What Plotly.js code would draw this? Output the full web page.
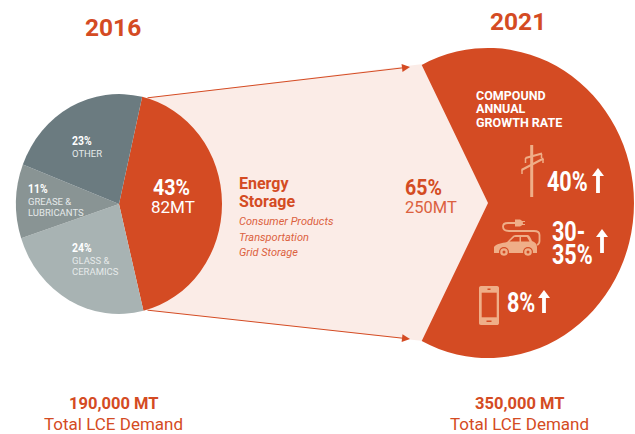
<!DOCTYPE html>
<html>
<head>
<meta charset="utf-8">
<script src="https://cdn.plot.ly/plotly-3.0.1.min.js"></script>
<style>html,body{margin:0;padding:0;background:#fff;overflow:hidden}#chart{width:635px;height:434px}</style>
</head>
<body>
<div id="chart"></div>
<script>
// ---- data ----
const categories2016 = ["Energy Storage", "Glass & Ceramics", "Grease & Lubricants", "Other"];
const shares2016 = [43, 24, 11, 23];
const categories2021 = ["Energy Storage", "Other uses"];
const shares2021 = [65, 35];
const years = ["2016", "2021"];
const totals = ["190,000 MT", "350,000 MT"];
const totalLabel = "Total LCE Demand";
const energyUses = ["Consumer Products", "Transportation", "Grid Storage"];

const ORANGE = "#D44B23", PALE = "#FBECE7", ICON = "#EFAE88", SOFT = "#DB6140";
const BODY = "Roboto, sans-serif";

const PIE_A = {cx:119, cy:204, rx:103, ry:110};
const PIE_B = {cx:488, cy:203, rx:146, ry:155};

function dom(p){return {x:[(p.cx-p.rx)/635,(p.cx+p.rx)/635], y:[1-(p.cy+p.rx)/434,1-(p.cy-p.rx)/434]};}

const traces = [
  {type:"scatter", x:[], y:[], hoverinfo:"skip", showlegend:false},
  {type:"pie", labels:categories2016, values:shares2016, sort:false, direction:"clockwise", rotation:13,
   domain:dom(PIE_A), textinfo:"none", hoverinfo:"label+percent", showlegend:false,
   marker:{colors:[ORANGE,"#A8B3B3","#899494","#6B7B80"], line:{width:0}}},
  {type:"pie", labels:categories2021, values:shares2021, sort:false, direction:"clockwise", rotation:-27,
   domain:dom(PIE_B), textinfo:"none", hoverinfo:"label", showlegend:false,
   marker:{colors:[ORANGE,"rgba(0,0,0,0)"], line:{width:0}}}
];

function t(text,x,y,size,color,opts){
  opts=opts||{};
  return {text:opts.bold?"<b>"+text+"</b>":(opts.italic?"<i>"+text+"</i>":text), x:opts.anchor?x:x-1, y:y, xref:"x", yref:"y",
    xanchor:opts.anchor||"left", yanchor:"middle", showarrow:false, align:opts.anchor||"left",
    borderpad:0, font:{family:BODY, size:size, color:color}, _s:opts.squeeze||0};
}
const WHITE="#FFFFFF", LABEL="#E6EAEA";
const rawAnn = [
  t(years[0],113,27,24.5,ORANGE,{bold:true,anchor:"center"}),
  t(years[1],518,21,24.5,ORANGE,{bold:true,anchor:"center"}),
  t(totals[0],113,403,16.5,ORANGE,{bold:true,anchor:"center"}),
  t(totalLabel,113,424,17,ORANGE,{anchor:"center"}),
  t(totals[1],519,403,16.5,ORANGE,{bold:true,anchor:"center"}),
  t(totalLabel,519,424,17,ORANGE,{anchor:"center"}),
  t("23%",72,140,13,WHITE,{bold:true,squeeze:.8}),
  t("OTHER",72,153,9.5,LABEL),
  t("11%",28,188,13,WHITE,{bold:true,squeeze:.8}),
  t("GREASE &",28,201,9.5,LABEL),
  t("LUBRICANTS",28,212,9.5,LABEL),
  t("24%",72,247,13,WHITE,{bold:true,squeeze:.8}),
  t("GLASS &",72,260,9.5,LABEL),
  t("CERAMICS",72,271,9.5,LABEL),
  t("43%",153,187,22.5,WHITE,{bold:true,squeeze:.87}),
  t("82MT",173,207,17,WHITE,{anchor:"center"}),
  t("Energy",239,183,16,ORANGE,{bold:true}),
  t("Storage",239,201,16,ORANGE,{bold:true}),
  t(energyUses[0],239,221,11,SOFT,{italic:true}),
  t(energyUses[1],239,237,11,SOFT,{italic:true}),
  t(energyUses[2],239,252,11,SOFT,{italic:true}),
  t("65%",405,187,22.5,ORANGE,{bold:true,squeeze:.87}),
  t("250MT",405,207,16.5,SOFT),
  t("COMPOUND",476,95,12.5,WHITE,{bold:true}),
  t("ANNUAL",476,108,12.5,WHITE,{bold:true}),
  t("GROWTH RATE",476,122,12.5,WHITE,{bold:true}),
  t("40%",547,182,27,WHITE,{bold:true,squeeze:.8}),
  t("30-",552,232,27,WHITE,{bold:true,squeeze:.8}),
  t("35%",552,255,27,WHITE,{bold:true,squeeze:.8}),
  t("8%",507,303,27,WHITE,{bold:true,squeeze:.8})
];
const squeezes = rawAnn.map(a=>a._s);
const annotations = rawAnn.map(a=>{const c=Object.assign({},a); delete c._s; return c;}).concat([
  {text:"",x:410,y:67,ax:146,ay:98,xref:"x",yref:"y",axref:"x",ayref:"y",showarrow:true,arrowhead:2,arrowsize:1.6,arrowwidth:1,arrowcolor:ORANGE},
  {text:"",x:410,y:339,ax:146,ay:310,xref:"x",yref:"y",axref:"x",ayref:"y",showarrow:true,arrowhead:2,arrowsize:1.6,arrowwidth:1,arrowcolor:ORANGE}
]);

function fillPath(path,color,layer){return {type:"path",xref:"x",yref:"y",path:path,fillcolor:color,line:{width:0},layer:layer||"above"};}
function stroke(path,color,w){return {type:"path",xref:"x",yref:"y",path:path,line:{color:color,width:w},layer:"above"};}
function circle(x,y,r,color){return {type:"circle",xref:"x",yref:"y",x0:x-r,x1:x+r,y0:y-r,y1:y+r,fillcolor:color,line:{width:0},layer:"above"};}
function upArrow(x,top,bottom){
  return fillPath(`M${x-1.9},${bottom} L${x+1.9},${bottom} L${x+1.9},${top+8} L${x+6},${top+8} L${x},${top} L${x-6},${top+8} L${x-1.9},${top+8} Z`,WHITE);
}
const shapes = [
  fillPath("M146,98 L423,64 L488,203 L423,341 L146,310 Z",PALE,"below"),
  // utility pole
  stroke("M531.7,145 L531.7,197",ICON,3),
  stroke("M525.5,158 L542,153.5",ICON,2),
  stroke("M521.5,170 L543.5,158.5",ICON,2),
  stroke("M525.5,158 L525.5,163 M541.5,154 L541.5,158 M522,170 L522,174 M543,159 L543,163",ICON,1.5),
  // car and cable
  fillPath("M494,253 L494,247 C496,244 502,243 507,242 L513,236 C514,235 515,235 517,235 L527,235 C529,235 530,236 532,241 C535,242 537,244 537,247 L537,253 Z",ICON),
  fillPath("M509.5,241.5 L514.5,237 L519.5,237 L519.5,241.5 Z",ORANGE),
  fillPath("M521,237 L527,237 L529.5,241.5 L521,241.5 Z",ORANGE),
  circle(504,252,5,ORANGE), circle(504,252,3.8,ICON), circle(504,252,1.5,ORANGE),
  circle(528,252,5,ORANGE), circle(528,252,3.8,ICON), circle(528,252,1.5,ORANGE),
  stroke("M537,245 C539,244 539.5,243 539.5,241 L539.5,235 C539.5,232 537,231 534,231 L509,231 C505,231 503,229 503,226.5 C503,224 505,223 508,223 L516,223",ICON,1.8),
  fillPath("M515,219.5 L520,219.5 C522,220.5 523,222 523,223 C523,224.5 522,225.5 520,226.5 L515,226.5 Z",ICON),
  stroke("M522,221.5 L525,221.5 M522,224.5 L525,224.5",ICON,1),
  // phone
  fillPath("M481,286 L497,286 C498.5,286 499,287 499,288 L499,323 C499,324.5 498,325 497,325 L481,325 C479.5,325 479,324 479,323 L479,288 C479,287 479.5,286 481,286 Z",ICON),
  fillPath("M481.7,292.7 L496.7,292.7 L496.7,317.3 L481.7,317.3 Z",ORANGE),
  fillPath("M487.5,288.5 L490.5,288.5 L490.5,290 L487.5,290 Z",ORANGE),
  fillPath("M486.5,320.5 L491.5,320.5 L491.5,322 L486.5,322 Z",ORANGE),
  upArrow(598,168,193), upArrow(602,229,253), upArrow(544,290,313)
];

const layout = {
  width:635, height:434, margin:{l:0,r:0,t:0,b:0}, paper_bgcolor:"#fff", plot_bgcolor:"rgba(0,0,0,0)",
  showlegend:false, hovermode:false,
  xaxis:{range:[0,635],visible:false,fixedrange:true},
  yaxis:{range:[434,0],visible:false,fixedrange:true},
  annotations:annotations, shapes:shapes
};
Plotly.newPlot("chart",traces,layout,{displayModeBar:false,staticPlot:true}).then(function(gd){
  // the original pies are slightly taller than wide
  var groups=gd.querySelectorAll(".pielayer .trace");
  [PIE_A,PIE_B].forEach(function(p,i){
    if(groups[i]) groups[i].setAttribute("transform",
      "translate("+p.cx+","+p.cy+") scale(1,"+(p.ry/p.rx)+") translate("+(-p.cx)+","+(-p.cy)+")");
  });
  // condensed figures: Roboto Condensed is not installed, so squeeze the Roboto glyphs
  squeezes.forEach(function(s,i){
    if(!s) return;
    var el=gd.querySelector('.annotation[data-index="'+i+'"] text');
    if(!el) return;
    var x0=el.getBBox().x;
    el.setAttribute("transform","translate("+x0+",0) scale("+s+",1) translate("+(-x0)+",0)");
  });
});
</script>
</body>
</html>
